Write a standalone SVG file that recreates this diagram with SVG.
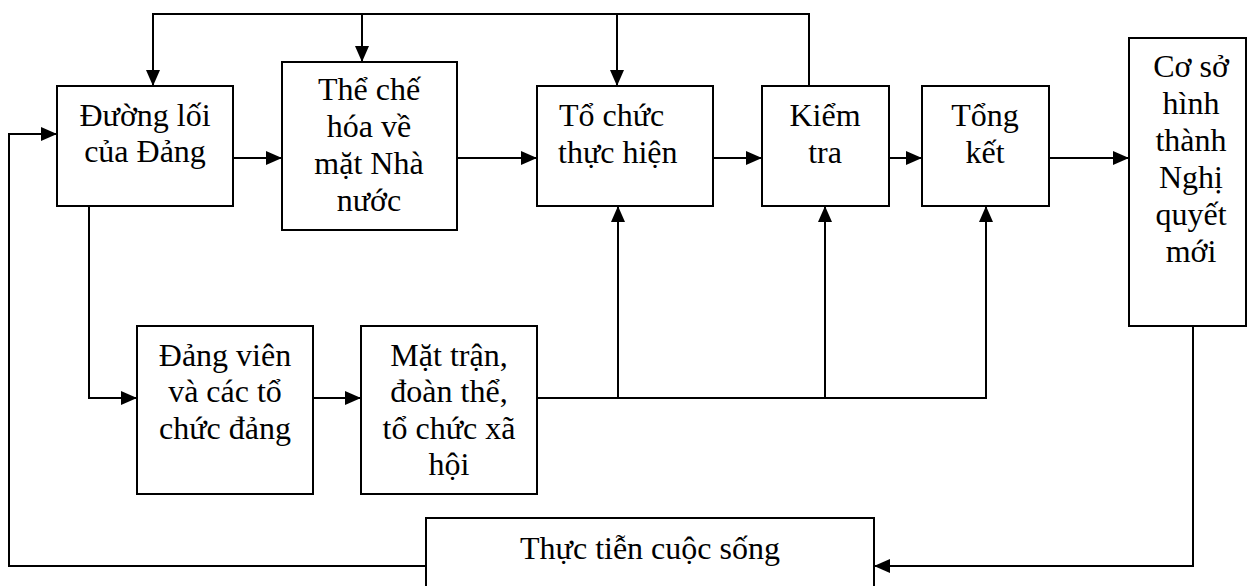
<svg xmlns="http://www.w3.org/2000/svg" width="1248" height="586" viewBox="0 0 1248 586">
<style>
.box{fill:#fff;stroke:#000;stroke-width:2}
.t{font-family:"Liberation Serif","Times New Roman",serif;font-size:32px;fill:#000;text-anchor:middle}
.tl{text-anchor:start}
.c{fill:none;stroke:#000;stroke-width:2}
</style>
<defs>
<marker id="ah" viewBox="0 0 16 14" refX="16" refY="7" markerWidth="16" markerHeight="14" markerUnits="userSpaceOnUse" orient="auto">
<path d="M0,0 L16,7 L0,14 Z" fill="#000"/>
</marker>
</defs>
<rect width="1248" height="586" fill="#fff"/>
<g id="connectors">
<path class="c" d="M809,86 V14 H153 V86" marker-end="url(#ah)"/>
<path class="c" d="M362,14 V62" marker-end="url(#ah)"/>
<path class="c" d="M617,14 V86" marker-end="url(#ah)"/>
<path class="c" d="M233,158 H282" marker-end="url(#ah)"/>
<path class="c" d="M457,158 H537" marker-end="url(#ah)"/>
<path class="c" d="M713,158 H762" marker-end="url(#ah)"/>
<path class="c" d="M889,158 H922" marker-end="url(#ah)"/>
<path class="c" d="M1049,158 H1129" marker-end="url(#ah)"/>
<path class="c" d="M89,206 V398 H137" marker-end="url(#ah)"/>
<path class="c" d="M313,398 H361" marker-end="url(#ah)"/>
<path class="c" d="M537,398 H986 V206" marker-end="url(#ah)"/>
<path class="c" d="M618,398 V206" marker-end="url(#ah)"/>
<path class="c" d="M825,398 V206" marker-end="url(#ah)"/>
<path class="c" d="M1193,326 V566 H874" marker-end="url(#ah)"/>
<path class="c" d="M426,566 H9 V134 H57" marker-end="url(#ah)"/>
</g>
<g id="duong-loi">
<rect class="box" x="57" y="86" width="176" height="120"/>
<text class="t" x="145" y="126">Đường lối</text>
<text class="t" x="145" y="162">của Đảng</text>
</g>
<g id="the-che">
<rect class="box" x="282" y="62" width="175" height="168"/>
<text class="t" x="369" y="100">Thể chế</text>
<text class="t" x="369" y="137">hóa về</text>
<text class="t" x="369" y="174">mặt Nhà</text>
<text class="t" x="369" y="211">nước</text>
</g>
<g id="to-chuc">
<rect class="box" x="537" y="86" width="176" height="120"/>
<text class="t tl" x="559" y="126">Tổ chức</text>
<text class="t tl" x="558" y="163">thực hiện</text>
</g>
<g id="kiem-tra">
<rect class="box" x="762" y="86" width="127" height="120"/>
<text class="t" x="825" y="126">Kiểm</text>
<text class="t" x="825" y="163">tra</text>
</g>
<g id="tong-ket">
<rect class="box" x="922" y="86" width="127" height="120"/>
<text class="t" x="985" y="126">Tổng</text>
<text class="t" x="985" y="163">kết</text>
</g>
<g id="co-so">
<rect class="box" x="1129" y="38" width="117" height="288"/>
<text class="t" x="1191" y="77">Cơ sở</text>
<text class="t" x="1191" y="114">hình</text>
<text class="t" x="1191" y="151">thành</text>
<text class="t" x="1191" y="188">Nghị</text>
<text class="t" x="1191" y="225">quyết</text>
<text class="t" x="1191" y="262">mới</text>
</g>
<g id="dang-vien">
<rect class="box" x="137" y="326" width="176" height="168"/>
<text class="t" x="225" y="366">Đảng viên</text>
<text class="t" x="225" y="402">và các tổ</text>
<text class="t" x="225" y="439">chức đảng</text>
</g>
<g id="mat-tran">
<rect class="box" x="361" y="326" width="176" height="168"/>
<text class="t" x="449" y="366">Mặt trận,</text>
<text class="t" x="449" y="402">đoàn thể,</text>
<text class="t" x="449" y="439">tổ chức xã</text>
<text class="t" x="449" y="475">hội</text>
</g>
<g id="thuc-tien">
<path class="c" d="M426,586 V518 H874 V586"/>
<text class="t" x="650" y="559">Thực tiễn cuộc sống</text>
</g>
</svg>
